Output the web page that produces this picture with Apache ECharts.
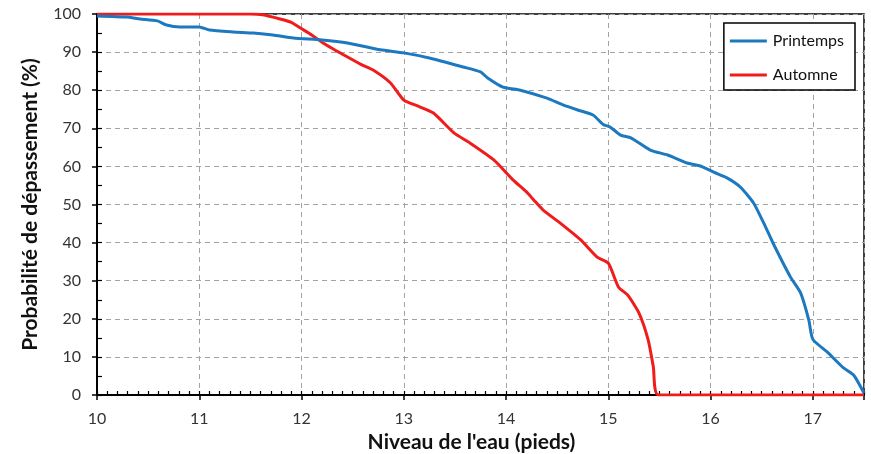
<!DOCTYPE html>
<html>
<head>
<meta charset="utf-8">
<script src="https://cdn.jsdelivr.net/npm/echarts@6/dist/echarts.min.js"></script>
<style>
  html, body { margin: 0; padding: 0; background: #fff; }
  #chart { width: 871px; height: 454px; }
</style>
</head>
<body>
<div id="chart"></div>
<script>
// Courbes de probabilité de dépassement du niveau d'eau
const springLevel = [10.0, 10.29, 10.42, 10.59, 10.68, 10.81, 11.0, 11.1, 11.33, 11.53, 11.72, 11.92, 12.2, 12.45, 12.77, 13.0, 13.26, 13.58, 13.75, 13.82, 13.97, 14.14, 14.4, 14.55, 14.7, 14.85, 14.95, 15.02, 15.12, 15.22, 15.41, 15.58, 15.77, 15.9, 16.03, 16.16, 16.29, 16.42, 16.52, 16.61, 16.78, 16.88, 16.96, 17.0, 17.14, 17.3, 17.4, 17.5];
const springProb  = [99.5, 99.2, 98.7, 98.2, 97.1, 96.6, 96.6, 95.8, 95.3, 95.0, 94.5, 93.7, 93.2, 92.4, 90.6, 89.8, 88.4, 86.1, 84.8, 83.2, 80.8, 80.0, 77.9, 76.2, 74.8, 73.5, 71.0, 70.3, 68.2, 67.5, 64.3, 63.0, 60.9, 60.1, 58.5, 57.0, 54.6, 50.4, 45.1, 39.9, 31.0, 26.8, 19.7, 14.6, 11.3, 7.1, 5.2, 0.5];

const autumnLevel = [10.0, 11.5, 11.62, 11.79, 11.9, 11.99, 12.1, 12.21, 12.45, 12.58, 12.7, 12.87, 13.0, 13.15, 13.29, 13.49, 13.65, 13.88, 14.07, 14.2, 14.27, 14.36, 14.53, 14.73, 14.89, 15.0, 15.1, 15.19, 15.3, 15.39, 15.44, 15.49, 17.5];
const autumnProb  = [100, 100, 99.8, 98.7, 97.8, 96.3, 94.5, 92.4, 88.7, 86.8, 85.3, 81.9, 77.4, 75.7, 74.0, 68.8, 66.1, 61.7, 56.4, 53.3, 51.2, 48.6, 45.1, 40.7, 36.2, 34.6, 28.3, 26.2, 21.5, 14.4, 7.4, 0, 0];

const seriesNames = ['Printemps', 'Automne'];
const xRange = [10, 17.5];
const yRange = [0, 100];

const pairs = (xs, ys) => xs.map((x, i) => [x, ys[i]]);

const FONT = 'Lato, "Open Sans", sans-serif';
const chart = echarts.init(document.getElementById('chart'), null, { renderer: 'canvas' });

chart.setOption({
  backgroundColor: '#ffffff',
  animation: false,
  grid: {
    left: 97, right: 7, top: 14, bottom: 59,
    outerBoundsMode: 'none',
    show: true, borderColor: '#000', borderWidth: 1.5, backgroundColor: 'transparent'
  },
  legend: {
    orient: 'vertical',
    right: 16, top: 23,
    padding: [10, 11, 7, 6],
    backgroundColor: '#fff',
    borderColor: '#000', borderWidth: 1.5, borderRadius: 0,
    itemWidth: 37, itemHeight: 3, itemGap: 18,
    icon: 'rect',
    textStyle: { fontFamily: FONT, fontSize: 16, color: '#111', padding: [0, 0, 0, 1] },
    data: seriesNames
  },
  xAxis: [
    {
      type: 'value', min: xRange[0], max: xRange[1], interval: 1,
      name: "Niveau de l'eau (pieds)", nameLocation: 'middle', nameGap: 28,
      nameTextStyle: { fontFamily: FONT, fontSize: 21, fontWeight: 'bold', color: '#111', padding: [0, 18, 0, 0] },
      axisLine: { show: true, lineStyle: { color: '#000', width: 2 } },
      axisTick: { show: true, inside: false, length: 5, lineStyle: { color: '#000', width: 1.5 } },
      axisLabel: {
        fontFamily: FONT, fontSize: 16, color: '#333', margin: 16,
        formatter: v => (Number.isInteger(v) ? String(v) : '')
      },
      splitLine: { show: true, lineStyle: { color: '#a3a3a3', type: [5, 4], width: 1 } }
    },
    {
      type: 'value', min: xRange[0], max: xRange[1], interval: 0.1, position: 'bottom',
      axisLine: { show: false },
      axisTick: { show: true, inside: true, length: 4, lineStyle: { color: '#000', width: 1.2 } },
      axisLabel: { show: false },
      splitLine: { show: false }
    }
  ],
  yAxis: [
    {
      type: 'value', min: yRange[0], max: yRange[1], interval: 10,
      name: 'Probabilité de dépassement (%)', nameLocation: 'middle', nameGap: 56,
      nameTextStyle: { fontFamily: FONT, fontSize: 21, fontWeight: 'bold', color: '#111' },
      axisLine: { show: true, lineStyle: { color: '#000', width: 2 } },
      axisTick: { show: true, inside: false, length: 5, lineStyle: { color: '#000', width: 1.5 } },
      axisLabel: { fontFamily: FONT, fontSize: 16, color: '#333', margin: 16 },
      splitLine: { show: true, lineStyle: { color: '#a3a3a3', type: [5, 4], width: 1 } }
    },
    {
      type: 'value', min: yRange[0], max: yRange[1], interval: 5, position: 'left',
      axisLine: { show: false },
      axisTick: { show: true, inside: true, length: 5, lineStyle: { color: '#000', width: 1.2 } },
      axisLabel: { show: false },
      splitLine: { show: false }
    }
  ],
  series: [
    {
      name: seriesNames[0], type: 'line', xAxisIndex: 0, yAxisIndex: 0,
      data: pairs(springLevel, springProb),
      showSymbol: false, symbol: 'none', smooth: 0.2,
      lineStyle: { color: '#1c79c0', width: 3 },
      itemStyle: { color: '#1c79c0' },
      z: 5
    },
    {
      name: seriesNames[1], type: 'line', xAxisIndex: 0, yAxisIndex: 0,
      data: pairs(autumnLevel, autumnProb),
      showSymbol: false, symbol: 'none', smooth: 0.2,
      lineStyle: { color: '#f01c1c', width: 3 },
      itemStyle: { color: '#f01c1c' },
      z: 4
    }
  ]
});
</script>
</body>
</html>
